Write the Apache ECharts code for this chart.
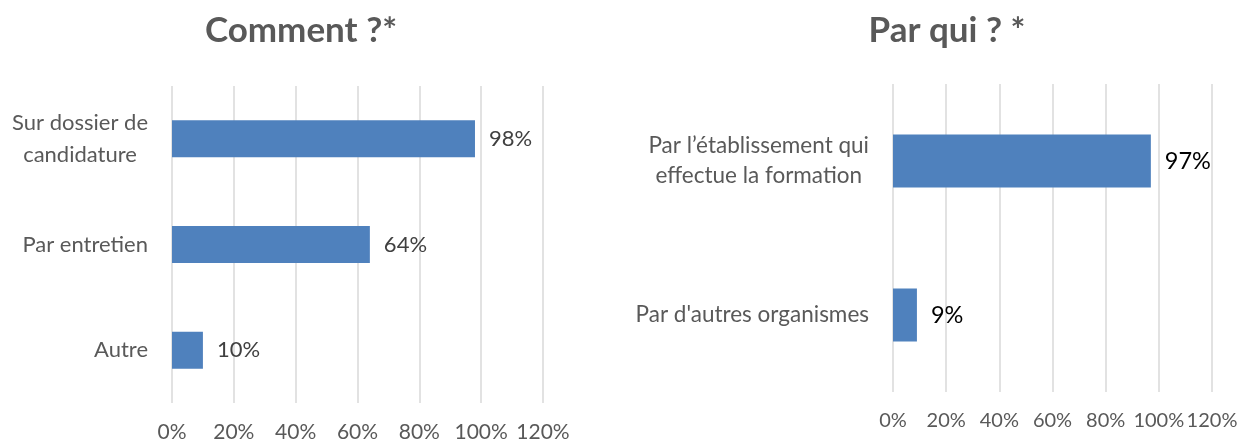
<!DOCTYPE html>
<html>
<head>
<meta charset="utf-8">
<script src="https://cdn.jsdelivr.net/npm/echarts@6/dist/echarts.min.js"></script>
<style>
  html, body { margin: 0; padding: 0; background: #fff; }
  #main { width: 1241px; height: 443px; }
</style>
</head>
<body>
<div id="main"></div>
<script>
// Comment ?*
const commentCats = ['Sur dossier de\ncandidature', 'Par entretien', 'Autre']
const commentVals = [98, 64, 10]
// Par qui ? *
const quiCats = ['Par l\u2019établissement qui\neffectue la formation', "Par d'autres organismes"]
const quiVals = [97, 9]
const xTicks = [0, 20, 40, 60, 80, 100, 120]

const font = 'Lato, "Liberation Sans", sans-serif'
const grey = '#595959'
const barColor = '#4f81bd'

let chart = echarts.init(document.getElementById('main'))

function xAxisFor (gridIndex, size) {
  return {
    gridIndex: gridIndex,
    type: 'value',
    min: xTicks[0],
    max: xTicks[xTicks.length - 1],
    interval: 20,
    axisLine: { show: false },
    axisTick: { show: false },
    axisLabel: {
      formatter: '{value}%', color: grey, fontSize: size, fontFamily: font, margin: 19,
      showMinLabel: true, showMaxLabel: true, hideOverlap: false
    },
    splitLine: { show: true, lineStyle: { color: '#d9d9d9', width: 1.5 } }
  }
}

function yAxisFor (gridIndex, cats, size, lh) {
  return {
    gridIndex: gridIndex,
    type: 'category',
    inverse: true,
    data: cats,
    axisLine: { show: false },
    axisTick: { show: false },
    axisLabel: {
      margin: 24,
      formatter: function (v) { return '{c|' + v.split('\n').join('}\n{c|') + '}' },
      rich: { c: { color: grey, fontSize: size, fontFamily: font, align: 'center', lineHeight: lh } }
    }
  }
}

chart.setOption({
  animation: false,
  title: [
    { text: 'Comment ?*', left: 296, top: 8, textAlign: 'center',
      textStyle: { color: grey, fontSize: 35, fontWeight: 'bold', fontFamily: font } },
    { text: 'Par qui ? *', left: 942, top: 8, textAlign: 'center',
      textStyle: { color: grey, fontSize: 35, fontWeight: 'bold', fontFamily: font } }
  ],
  grid: [
    { left: 172, right: 698, top: 86, height: 319 },
    { left: 893, right: 29, top: 84, height: 308 }
  ],
  xAxis: [xAxisFor(0, 21), xAxisFor(1, 20)],
  yAxis: [yAxisFor(0, commentCats, 22, 32), yAxisFor(1, quiCats, 22.5, 30)],
  series: [
    {
      type: 'bar', xAxisIndex: 0, yAxisIndex: 0, data: commentVals,
      barWidth: 37,
      itemStyle: { color: barColor },
      label: { show: true, position: 'right', distance: 14, formatter: '{c}%', color: '#404040', fontSize: 22, fontFamily: font }
    },
    {
      type: 'bar', xAxisIndex: 1, yAxisIndex: 1, data: quiVals,
      barWidth: 53,
      itemStyle: { color: barColor },
      label: { show: true, position: 'right', distance: 14, formatter: '{c}%', color: '#000', fontSize: 23.5, fontFamily: font }
    }
  ]
})
</script>
</body>
</html>
